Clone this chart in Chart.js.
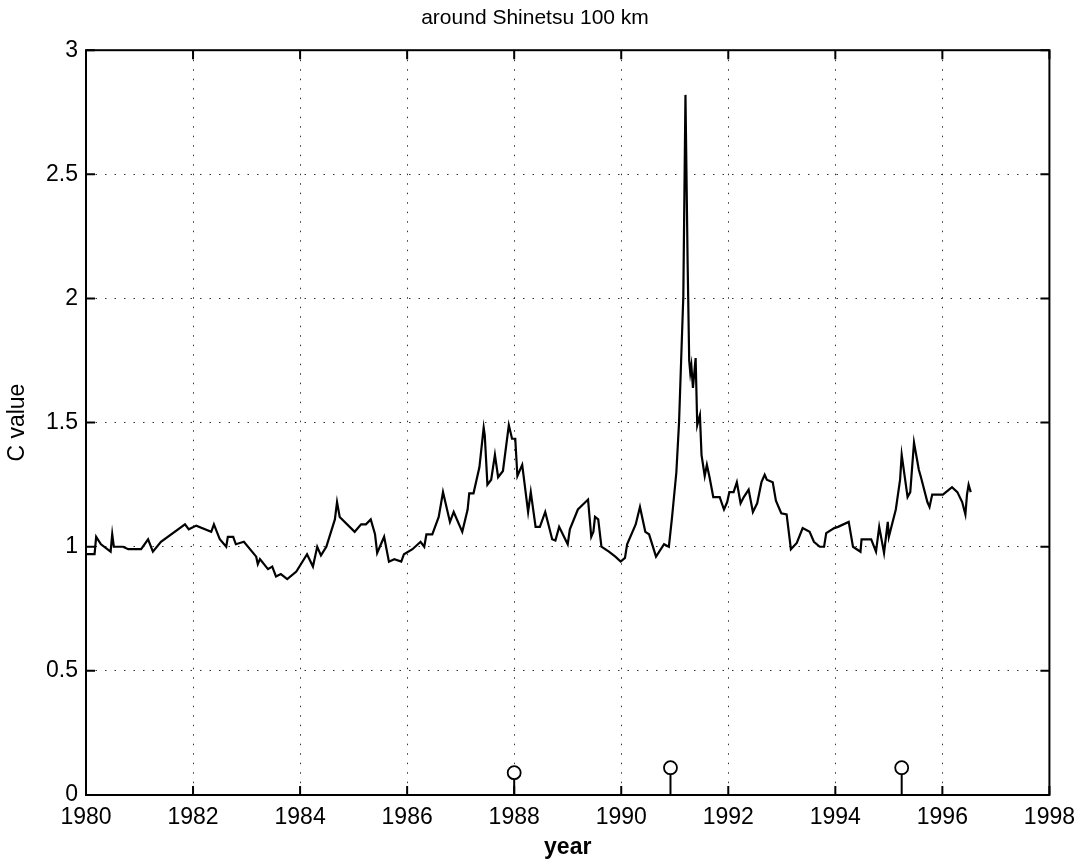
<!DOCTYPE html>
<html>
<head>
<meta charset="utf-8">
<script src="https://cdn.jsdelivr.net/npm/chart.js@4.4.0/dist/chart.umd.min.js"></script>
<style>
html, body { margin: 0; padding: 0; background: #fff; }
#wrap { width: 1084px; height: 861px; }
</style>
</head>
<body>
<div id="wrap"><canvas id="chart1"></canvas></div>
<script>
// C value time series
const years = [
  1980.00, 1980.16, 1980.19, 1980.28, 1980.46, 1980.49, 1980.52, 1980.69, 1980.79, 1981.03,
  1981.16, 1981.25, 1981.40, 1981.85, 1981.92, 1982.06, 1982.34, 1982.39, 1982.50, 1982.62,
  1982.65, 1982.75, 1982.80, 1982.95, 1983.18, 1983.21, 1983.25, 1983.40, 1983.48, 1983.55,
  1983.64, 1983.76, 1983.93, 1984.13, 1984.24, 1984.32, 1984.39, 1984.49, 1984.65, 1984.69,
  1984.74, 1985.02, 1985.14, 1985.23, 1985.32, 1985.40, 1985.44, 1985.57, 1985.66, 1985.76,
  1985.89, 1985.94, 1986.10, 1986.25, 1986.32, 1986.36, 1986.47, 1986.59, 1986.67, 1986.80,
  1986.87, 1987.03, 1987.13, 1987.16, 1987.24, 1987.35, 1987.43, 1987.45, 1987.50, 1987.57,
  1987.64, 1987.70, 1987.79, 1987.90, 1987.96, 1988.02, 1988.06, 1988.15, 1988.26, 1988.31,
  1988.40, 1988.48, 1988.58, 1988.71, 1988.77, 1988.84, 1989.00, 1989.04, 1989.19, 1989.38,
  1989.44, 1989.48, 1989.51, 1989.57, 1989.63, 1989.77, 1989.89, 1989.99, 1990.07, 1990.11,
  1990.27, 1990.35, 1990.45, 1990.52, 1990.65, 1990.80, 1990.89, 1990.95, 1991.03, 1991.08,
  1991.12, 1991.16, 1991.20, 1991.24, 1991.27, 1991.29, 1991.31, 1991.34, 1991.39, 1991.42,
  1991.47, 1991.50, 1991.56, 1991.60, 1991.65, 1991.72, 1991.84, 1991.92, 1991.98, 1992.02,
  1992.10, 1992.16, 1992.23, 1992.29, 1992.38, 1992.46, 1992.54, 1992.62, 1992.68, 1992.72,
  1992.83, 1992.89, 1992.99, 1993.09, 1993.17, 1993.28, 1993.39, 1993.52, 1993.60, 1993.71,
  1993.79, 1993.83, 1993.98, 1994.05, 1994.25, 1994.33, 1994.47, 1994.49, 1994.67, 1994.76,
  1994.82, 1994.91, 1994.98, 1995.00, 1995.13, 1995.21, 1995.24, 1995.35, 1995.40, 1995.47,
  1995.56, 1995.60, 1995.72, 1995.76, 1995.81, 1996.01, 1996.18, 1996.28, 1996.37, 1996.43,
  1996.46, 1996.49, 1996.53
];
const cValues = [
  0.97, 0.97, 1.04, 1.01, 0.98, 1.05, 1.00, 1.00, 0.99, 0.99,
  1.03, 0.98, 1.02, 1.09, 1.07, 1.085, 1.06, 1.09, 1.03, 1.00,
  1.04, 1.04, 1.01, 1.02, 0.96, 0.93, 0.95, 0.91, 0.92, 0.88,
  0.89, 0.87, 0.90, 0.97, 0.92, 1.00, 0.965, 1.00, 1.11, 1.18,
  1.12, 1.06, 1.09, 1.09, 1.11, 1.05, 0.975, 1.04, 0.94, 0.95,
  0.94, 0.97, 0.99, 1.02, 1.00, 1.05, 1.05, 1.12, 1.22, 1.10,
  1.14, 1.06, 1.15, 1.215, 1.215, 1.32, 1.48, 1.45, 1.25, 1.27,
  1.37, 1.28, 1.305, 1.49, 1.435, 1.435, 1.285, 1.33, 1.14, 1.22,
  1.08, 1.08, 1.14, 1.03, 1.025, 1.08, 1.01, 1.07, 1.15, 1.19,
  1.04, 1.06, 1.12, 1.11, 1.00, 0.98, 0.96, 0.94, 0.955, 1.01,
  1.09, 1.16, 1.06, 1.05, 0.96, 1.01, 1.00, 1.12, 1.30, 1.50,
  1.755, 2.01, 2.82, 2.15, 1.75, 1.70, 1.73, 1.64, 1.76, 1.49,
  1.53, 1.37, 1.285, 1.33, 1.28, 1.20, 1.20, 1.15, 1.18, 1.22,
  1.22, 1.26, 1.175, 1.20, 1.23, 1.14, 1.175, 1.26, 1.29, 1.27,
  1.26, 1.185, 1.135, 1.13, 0.99, 1.015, 1.075, 1.06, 1.02, 1.00,
  1.00, 1.055, 1.075, 1.08, 1.10, 1.00, 0.98, 1.03, 1.03, 0.98,
  1.08, 0.975, 1.10, 1.04, 1.15, 1.27, 1.37, 1.20, 1.22, 1.42,
  1.31, 1.28, 1.18, 1.16, 1.21, 1.21, 1.24, 1.22, 1.18, 1.13,
  1.21, 1.25, 1.22
];
// events shown as stems at the bottom
const quakeYears = [1988.0, 1990.92, 1995.24];
const quakeValues = [0.09, 0.11, 0.11];

const xTicks = [1980, 1982, 1984, 1986, 1988, 1990, 1992, 1994, 1996, 1998];
const yTicks = [0, 0.5, 1, 1.5, 2, 2.5, 3];

const fontFam = '"Liberation Sans", Arial, Helvetica, sans-serif';

const mainLine = years.map((yr, i) => ({ x: yr, y: cValues[i] }));

const stemSets = quakeYears.map((q, i) => ({
  type: 'line',
  data: [{ x: q, y: 0 }, { x: q, y: quakeValues[i] }],
  borderColor: '#000',
  borderWidth: 2,
  pointRadius: 0,
  order: 1
}));

// box around the plot and inward ticks, matlab style
const frameTicks = {
  id: 'frameTicks',
  afterDatasetsDraw(chart) {
    const ctx = chart.ctx;
    const a = chart.chartArea;
    const xs = chart.scales.x;
    const ys = chart.scales.y;
    ctx.save();
    ctx.strokeStyle = '#000';
    ctx.lineWidth = 2;
    ctx.strokeRect(a.left, a.top, a.right - a.left, a.bottom - a.top);
    ctx.beginPath();
    xTicks.forEach(t => {
      const px = xs.getPixelForValue(t);
      ctx.moveTo(px, a.bottom); ctx.lineTo(px, a.bottom - 9);
      ctx.moveTo(px, a.top); ctx.lineTo(px, a.top + 9);
    });
    yTicks.forEach(t => {
      const py = ys.getPixelForValue(t);
      ctx.moveTo(a.left, py); ctx.lineTo(a.left + 9, py);
      ctx.moveTo(a.right, py); ctx.lineTo(a.right - 9, py);
    });
    ctx.stroke();
    ctx.restore();
  }
};

const ctx = document.getElementById('chart1').getContext('2d');
const myChart = new Chart(ctx, {
  type: 'line',
  data: {
    datasets: [
      {
        data: mainLine,
        borderColor: '#000',
        borderWidth: 2.2,
        pointRadius: 0,
        tension: 0,
        fill: false,
        order: 2
      },
      ...stemSets,
      {
        type: 'scatter',
        data: quakeYears.map((q, i) => ({ x: q, y: quakeValues[i] })),
        pointRadius: 6.5,
        pointBackgroundColor: '#fff',
        pointBorderColor: '#000',
        pointBorderWidth: 1.8,
        order: 0
      }
    ]
  },
  options: {
    responsive: true,
    maintainAspectRatio: false,
    animation: false,
    layout: { padding: { left: 2, right: 16, top: 0, bottom: 0 } },
    plugins: {
      legend: { display: false },
      tooltip: { enabled: false },
      title: {
        display: true,
        text: 'around Shinetsu 100 km',
        color: '#000',
        font: { family: fontFam, size: 21, weight: 'normal' },
        padding: { top: 6, bottom: 19 }
      }
    },
    scales: {
      x: {
        type: 'linear',
        min: 1980,
        max: 1998,
        afterFit: s => { s.height = 66; },
        afterBuildTicks: s => { s.ticks = xTicks.map(v => ({ value: v })); },
        ticks: {
          color: '#000',
          padding: 9,
          font: { family: fontFam, size: 23 },
          callback: v => String(v)
        },
        grid: { color: '#333', lineWidth: 1, drawTicks: false },
        border: { display: false, dash: [1.5, 8] },
        title: {
          display: true,
          text: 'year',
          color: '#000',
          font: { family: fontFam, size: 23, weight: 'bold' },
          padding: { top: 0, bottom: 0 }
        }
      },
      y: {
        min: 0,
        max: 3,
        afterFit: s => { s.width = 84; },
        afterBuildTicks: s => { s.ticks = yTicks.map(v => ({ value: v })); },
        ticks: {
          color: '#000',
          padding: 8,
          font: { family: fontFam, size: 23 },
          callback: v => String(v)
        },
        grid: { color: '#333', lineWidth: 1, drawTicks: false },
        border: { display: false, dash: [1.5, 8] },
        title: {
          display: true,
          text: 'C value',
          color: '#000',
          font: { family: fontFam, size: 23, weight: 'normal' },
          padding: { top: 2, bottom: 2 }
        }
      }
    }
  },
  plugins: [frameTicks]
});
</script>
</body>
</html>
